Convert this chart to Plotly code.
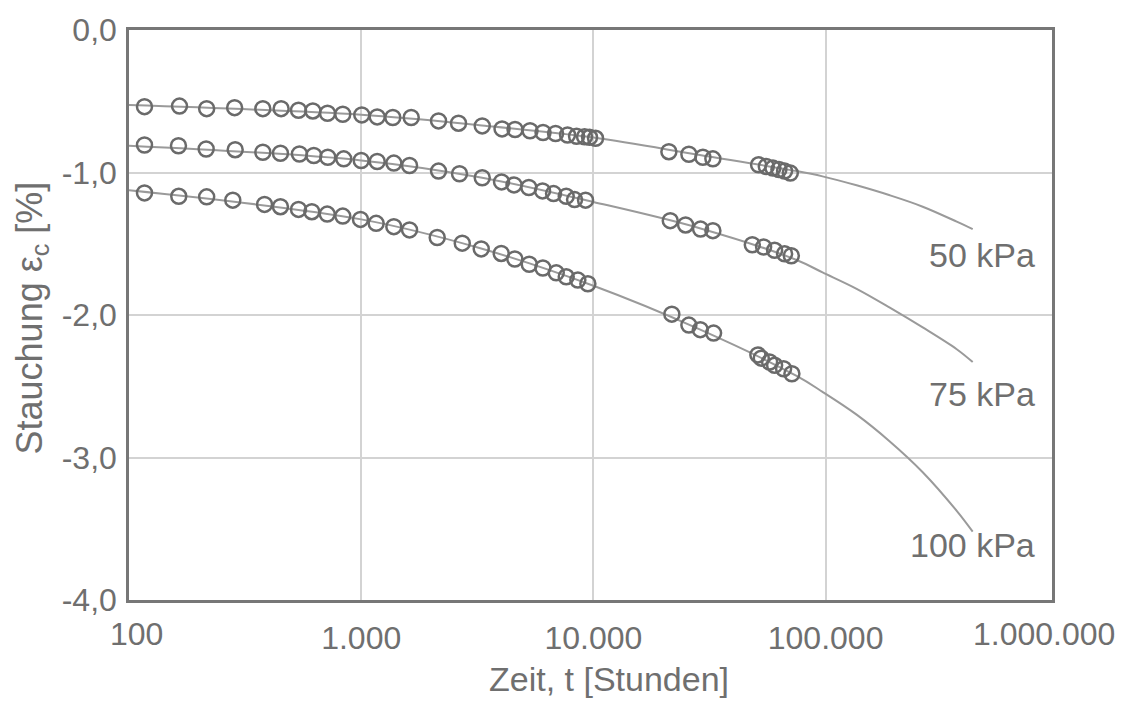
import plotly.graph_objects as go

# ---------------- data ----------------
t_50 = [116.6, 165, 216, 285, 377, 452, 537, 619, 716, 833, 1006, 1172, 1368, 1642,
        2153, 2625, 3321, 4042, 4597, 5335, 6069, 6871, 7738, 8462, 9160, 9625, 10216,
        21135, 25775, 29614, 32700, 51440, 55540, 59290, 62930, 66580, 70470]
eps_50 = [-0.538, -0.534, -0.552, -0.545, -0.552, -0.552, -0.563, -0.568, -0.584, -0.591,
          -0.596, -0.610, -0.614, -0.614, -0.638, -0.654, -0.673, -0.694, -0.698, -0.707,
          -0.719, -0.726, -0.737, -0.746, -0.749, -0.753, -0.760,
          -0.854, -0.872, -0.893, -0.904, -0.946, -0.958, -0.969, -0.979, -0.990, -1.004]

t_75 = [116.6, 163.3, 214.9, 286.6, 377, 449, 542, 625, 718, 841, 1000, 1172, 1382, 1615,
        2153, 2651, 3321, 4022, 4551, 5272, 6039, 6735, 7638, 8296, 9251,
        21430, 24946, 28940, 32700, 48340, 54080, 60310, 66580, 71170]
eps_75 = [-0.807, -0.812, -0.835, -0.840, -0.858, -0.865, -0.870, -0.881, -0.893, -0.904,
          -0.916, -0.923, -0.934, -0.951, -0.990, -1.009, -1.037, -1.066, -1.087, -1.105,
          -1.129, -1.148, -1.167, -1.190, -1.194,
          -1.338, -1.368, -1.397, -1.408, -1.507, -1.523, -1.546, -1.570, -1.584]

t_100 = [116.6, 163.8, 216, 279.9, 383.4, 449, 537, 612.9, 713.9, 833, 993, 1160, 1382, 1615,
         2125, 2724, 3288, 4010, 4587, 5293, 6058, 6918, 7638, 8570, 9465,
         21770, 25775, 28860, 32930, 51090, 52840, 57380, 60310, 65930, 71580]
eps_100 = [-1.143, -1.167, -1.171, -1.194, -1.224, -1.240, -1.259, -1.275, -1.292, -1.306,
           -1.329, -1.357, -1.380, -1.403, -1.456, -1.496, -1.536, -1.568, -1.607, -1.644,
           -1.670, -1.704, -1.732, -1.755, -1.781,
           -1.994, -2.071, -2.103, -2.127, -2.280, -2.303, -2.330, -2.353, -2.377, -2.412]

# fitted curves (read at sample times)
fit_t = [100, 1000, 3230, 10000, 28700, 75000, 97000, 136000, 189000, 262000, 367000, 430000]
fit_50 = [-0.527, -0.595, -0.668, -0.755, -0.877, -0.990, -1.027, -1.090, -1.160, -1.240, -1.345, -1.398]
fit_75 = [-0.812, -0.915, -1.033, -1.207, -1.391, -1.614, -1.701, -1.816, -1.948, -2.087, -2.240, -2.330]
fit_100 = [-1.125, -1.329, -1.530, -1.795, -2.101, -2.428, -2.539, -2.699, -2.887, -3.103, -3.374, -3.520]

series_names = ["50 kPa", "75 kPa", "100 kPa"]

y_tickvals = [0, -1, -2, -3, -4]
y_ticktext = ["0,0", "-1,0", "-2,0", "-3,0", "-4,0"]
x_tickvals = [1000, 10000, 100000]
x_ticktext = ["1.000", "10.000", "100.000"]
x_edge_labels = ["100", "1.000.000"]

# ---------------- styling ----------------
W, H = 1136, 704
L, R, T, B = 129, 1052, 25, 600
TEXT = "#6f6f6f"
FONT = "Liberation Sans, Arial, sans-serif"
CURVE = "#9a9a9a"
MARK = "#6a6a6a"
TICK_SIZE = 32
LABEL_SIZE = 34


def px_x(p):
    return (p - L) / (R - L)


def px_y(p):
    return (B - p) / (B - T)


fig = go.Figure()

for ft in (fit_50, fit_75, fit_100):
    fig.add_trace(go.Scatter(x=fit_t, y=ft, mode="lines", line=dict(color=CURVE, width=2, shape="spline", smoothing=1.0),
                             hoverinfo="skip", showlegend=False))

for name, tt, ee in zip(series_names, (t_50, t_75, t_100), (eps_50, eps_75, eps_100)):
    fig.add_trace(go.Scatter(x=tt, y=ee, mode="markers", name=name,
                             marker=dict(symbol="circle-open", size=15, color=MARK, line=dict(width=2.5, color=MARK)),
                             showlegend=False))

fig.update_layout(
    width=W, height=H,
    margin=dict(l=L, r=W - R, t=T, b=H - B, pad=0),
    paper_bgcolor="white", plot_bgcolor="white",
    font=dict(family=FONT, color=TEXT, size=TICK_SIZE),
    showlegend=False,
)

fig.update_xaxes(type="log", range=[2, 5.975],
                 tickvals=x_tickvals, ticktext=x_ticktext,
                 showgrid=True, gridcolor="#d3d3d3", gridwidth=2,
                 showline=True, linecolor="#777777", linewidth=2.5, mirror=True,
                 ticks="", ticklabelstandoff=8,
                 tickfont=dict(size=TICK_SIZE, color=TEXT, family=FONT), zeroline=False)
fig.update_yaxes(range=[-4, 0],
                 tickvals=y_tickvals, ticktext=y_ticktext,
                 showgrid=True, gridcolor="#d3d3d3", gridwidth=2,
                 showline=True, linecolor="#777777", linewidth=2.5, mirror=True,
                 ticks="", ticklabelstandoff=3,
                 tickfont=dict(size=TICK_SIZE, color=TEXT, family=FONT), zeroline=False)

ann = []
# edge tick labels of the x axis
ann.append(dict(text=x_edge_labels[0], x=px_x(136), y=px_y(634), xref="paper", yref="paper",
                xanchor="center", yanchor="middle", showarrow=False, font=dict(size=TICK_SIZE, color=TEXT, family=FONT)))
ann.append(dict(text=x_edge_labels[1], x=px_x(1044), y=px_y(634), xref="paper", yref="paper",
                xanchor="center", yanchor="middle", showarrow=False, font=dict(size=TICK_SIZE, color=TEXT, family=FONT)))
# axis titles
ann.append(dict(text="Zeit, t [Stunden]", x=px_x(609), y=px_y(680), xref="paper", yref="paper",
                xanchor="center", yanchor="middle", showarrow=False, font=dict(size=LABEL_SIZE, color=TEXT, family=FONT)))
ann.append(dict(text="Stauchung ε<sub>c</sub> [%]", x=px_x(32), y=px_y(316), xref="paper", yref="paper",
                xanchor="center", yanchor="middle", textangle=-90, showarrow=False,
                font=dict(size=36, color=TEXT, family=FONT)))
# series labels
for name, ypx in zip(series_names, (252, 392, 545)):
    ann.append(dict(text=name, x=px_x(1037), y=px_y(ypx), xref="paper", yref="paper",
                    xanchor="right", yanchor="middle", showarrow=False, font=dict(size=LABEL_SIZE, color=TEXT, family=FONT)))
fig.update_layout(annotations=ann)

fig.write_html("out.html")
